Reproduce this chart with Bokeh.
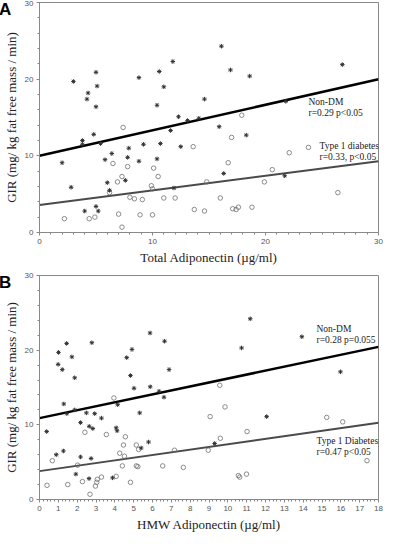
from bokeh.plotting import figure
from bokeh.models import Range1d, Label, FixedTicker, Div
from bokeh.layouts import column
from bokeh.embed import file_html
from bokeh.resources import INLINE

# ---- Panel A: Total adiponectin ----
a_nondm_x = [3.0, 5.0, 5.1, 4.3, 4.2, 5.0, 8.8, 10.6, 11.8, 11.0, 10.4, 11.6, 3.8, 3.8, 4.8, 5.4, 2.0, 2.8,
             5.8, 6.4, 7.9, 7.8, 8.8, 9.2, 10.4, 10.7, 6.0, 7.6, 6.2, 4.0, 5.2, 5.0, 11.9, 16.1, 16.9, 18.6,
             26.8, 14.6, 12.3, 13.1, 14.1, 15.9, 18.3, 21.8, 12.5, 16.3, 21.7]
a_nondm_y = [19.7, 20.9, 19.1, 18.2, 17.4, 16.4, 20.2, 21.0, 22.3, 19.0, 16.6, 13.3, 12.0, 11.5, 12.8, 11.6, 9.1, 5.9,
             9.5, 10.3, 11.0, 9.8, 9.3, 11.5, 9.6, 11.6, 6.5, 6.8, 5.5, 2.8, 2.8, 3.4, 5.8, 24.3, 21.2, 20.4,
             21.9, 17.4, 15.1, 14.6, 14.9, 13.8, 12.7, 17.1, 11.2, 7.7, 7.4]
a_t1_x = [7.4, 6.5, 7.8, 10.1, 10.5, 7.3, 6.9, 9.9, 10.0, 6.2, 8.0, 8.4, 9.1, 11.0, 12.0, 2.2, 4.4, 4.9, 7.0,
          8.9, 10.0, 7.3, 17.9, 17.0, 13.6, 16.7, 23.8, 22.1, 20.6, 19.9, 14.8, 16.0, 26.4, 13.7, 14.6, 17.1,
          17.4, 17.6, 18.8]
a_t1_y = [13.7, 9.0, 8.6, 8.4, 7.3, 7.3, 6.6, 6.1, 5.7, 5.2, 4.6, 4.4, 4.3, 4.5, 4.5, 1.8, 1.8, 2.0, 2.4,
          2.3, 2.3, 0.7, 15.3, 12.4, 11.2, 9.1, 11.1, 10.4, 8.2, 6.6, 6.6, 4.5, 5.2, 3.0, 2.8, 3.1,
          3.0, 3.3, 3.3]
a_fit_nondm = (10.0, 0.333)   # intercept, slope
a_fit_t1 = (3.6, 0.19)
a_xticks = [0, 10, 20, 30]

# ---- Panel B: HMW adiponectin ----
b_nondm_x = [5.87, 6.64, 1.44, 2.78, 1.01, 4.91, 1.72, 4.63, 0.99, 1.21, 6.88, 4.83, 1.87, 5.02, 5.88, 6.35,
             6.61, 1.29, 1.45, 1.87, 2.49, 2.93, 4.15, 5.32, 3.29, 0.38, 2.18, 2.64, 2.83, 4.07, 4.12, 5.79,
             5.40, 0.89, 1.27, 2.18, 2.74, 1.93, 2.63, 3.88, 11.19, 13.93, 10.73, 15.98, 12.06, 9.30]
b_nondm_y = [22.3, 21.2, 20.9, 21.0, 19.7, 20.1, 19.1, 19.0, 18.1, 17.4, 17.4, 16.6, 16.3, 14.9, 15.1, 14.5,
             13.7, 12.8, 11.5, 12.0, 11.6, 11.5, 12.7, 11.6, 10.9, 9.1, 10.3, 9.8, 9.5, 9.6, 9.2, 7.7,
             6.9, 6.0, 6.5, 5.7, 5.5, 3.4, 2.8, 2.9, 24.2, 21.8, 20.3, 17.1, 11.1, 7.5]
b_t1_x = [3.95, 2.41, 3.55, 4.56, 4.46, 5.14, 5.26, 7.17, 4.26, 4.51, 0.68, 2.02, 4.40, 5.14, 5.22, 6.54,
          0.40, 1.50, 2.28, 3.04, 3.29, 3.07, 2.97, 4.07, 4.83, 2.68, 9.57, 9.85, 9.06, 15.25, 16.10,
          11.02, 9.60, 8.96, 7.64, 17.39, 10.56, 10.63, 10.99]
b_t1_y = [13.6, 9.0, 8.7, 8.4, 7.3, 7.3, 6.7, 6.6, 6.2, 5.8, 5.2, 4.6, 4.5, 4.5, 4.4, 4.5,
          1.9, 2.0, 2.4, 2.3, 3.0, 2.7, 1.8, 3.1, 2.3, 0.7, 15.3, 12.4, 11.1, 11.0, 10.4,
          9.1, 8.2, 6.6, 4.3, 5.2, 3.2, 3.0, 3.4]
b_fit_nondm = (10.9, 0.53)
b_fit_t1 = (3.8, 0.36)
b_xticks = list(range(0, 19))

y_ticks = [0, 10, 20, 30]

SERIF = "Liberation Serif"
SANS = "Liberation Sans"
FIG_H = 267


def make_panel(xmax, xticks, minor, xlabel, nx, ny, tx, ty, fit_n, fit_t,
               lab_n, lab_t, lab_n_pos, lab_t_pos, top):
    p = figure(width=384, height=FIG_H, output_backend="svg", toolbar_location=None,
               x_range=Range1d(0, xmax), y_range=Range1d(0, 30))
    p.min_border_top = top
    p.min_border_right = 6
    p.min_border_left = 0
    p.min_border_bottom = 0
    p.xgrid.visible = False
    p.ygrid.visible = False
    p.outline_line_color = "#888888"
    p.outline_line_width = 1
    p.background_fill_color = "white"
    p.border_fill_color = "white"

    p.xaxis.ticker = FixedTicker(ticks=xticks,
                                 minor_ticks=[i / minor for i in range(0, int(xmax * minor) + 1)])
    p.yaxis.ticker = FixedTicker(ticks=y_ticks, minor_ticks=[i * 2 for i in range(0, 16)])
    for ax in (p.xaxis[0], p.yaxis[0]):
        ax.axis_line_color = "#888888"
        ax.major_tick_line_color = "#888888"
        ax.minor_tick_line_color = "#888888"
        ax.major_tick_out = 3
        ax.major_tick_in = 0
        ax.minor_tick_out = 2
        ax.minor_tick_in = 0
        ax.major_label_text_font = SANS
        ax.major_label_text_font_size = "8px"
        ax.major_label_text_color = "#555555"
        ax.major_label_standoff = 3
        ax.axis_label_text_font = SERIF
        ax.axis_label_text_font_size = "13px"
        ax.axis_label_text_font_style = "normal"
        ax.axis_label_text_color = "#222222"
        ax.axis_label_standoff = 3
    p.xaxis.axis_label = xlabel
    p.yaxis.axis_label = "GIR (mg/ kg fat free mass / min)"

    # regression lines
    xs = [0, xmax]
    p.line(xs, [fit_t[0] + fit_t[1] * x for x in xs], line_color="#4a4a4a", line_width=2)
    p.line(xs, [fit_n[0] + fit_n[1] * x for x in xs], line_color="black", line_width=2.5)

    p.scatter(tx, ty, marker="circle", size=4.5, fill_color=None, line_color="#707070", line_width=0.8)
    p.scatter(nx, ny, marker="asterisk", size=4.5, line_color="#333333", line_width=1.0)

    for (txt, pos) in ((lab_n, lab_n_pos), (lab_t, lab_t_pos)):
        for i, line in enumerate(txt):
            p.add_layout(Label(x=xmax, x_offset=-pos[0], y=pos[1], y_offset=-11 * i, text=line,
                               text_font=SERIF, text_font_size="9.5px", text_color="#222222",
                               text_baseline="middle"))
    return p


pA = make_panel(30, a_xticks, 1, "Total Adiponectin (\u00b5g/ml)",
                a_nondm_x, a_nondm_y, a_t1_x, a_t1_y, a_fit_nondm, a_fit_t1,
                ["Non-DM", "r=0.29 p<0.05"], ["Type 1 diabetes", "r=0.33, p<0.05"],
                (70, 17.0), (59, 11.3), 2)
pB = make_panel(18, b_xticks, 5, "HMW Adiponectin (\u00b5g/ml)",
                b_nondm_x, b_nondm_y, b_t1_x, b_t1_y, b_fit_nondm, b_fit_t1,
                ["Non-DM", "r=0.28 p=0.055"], ["Type 1 Diabetes", "r=0.47 p<0.05"],
                (62, 22.8), (62, 7.9), 8)


def letter_div(letter, top):
    return Div(text=letter, width=20, height=20,
               styles={"position": "absolute", "top": f"{top}px", "left": "-6px", "z-index": "10",
                       "font-family": SANS, "font-size": "17px", "font-weight": "bold",
                       "color": "black", "line-height": "17px"})


layout = column(letter_div("A", -4), letter_div("B", FIG_H + 2), pA, pB, spacing=0)
open("out.html", "w").write(file_html(layout, INLINE))
